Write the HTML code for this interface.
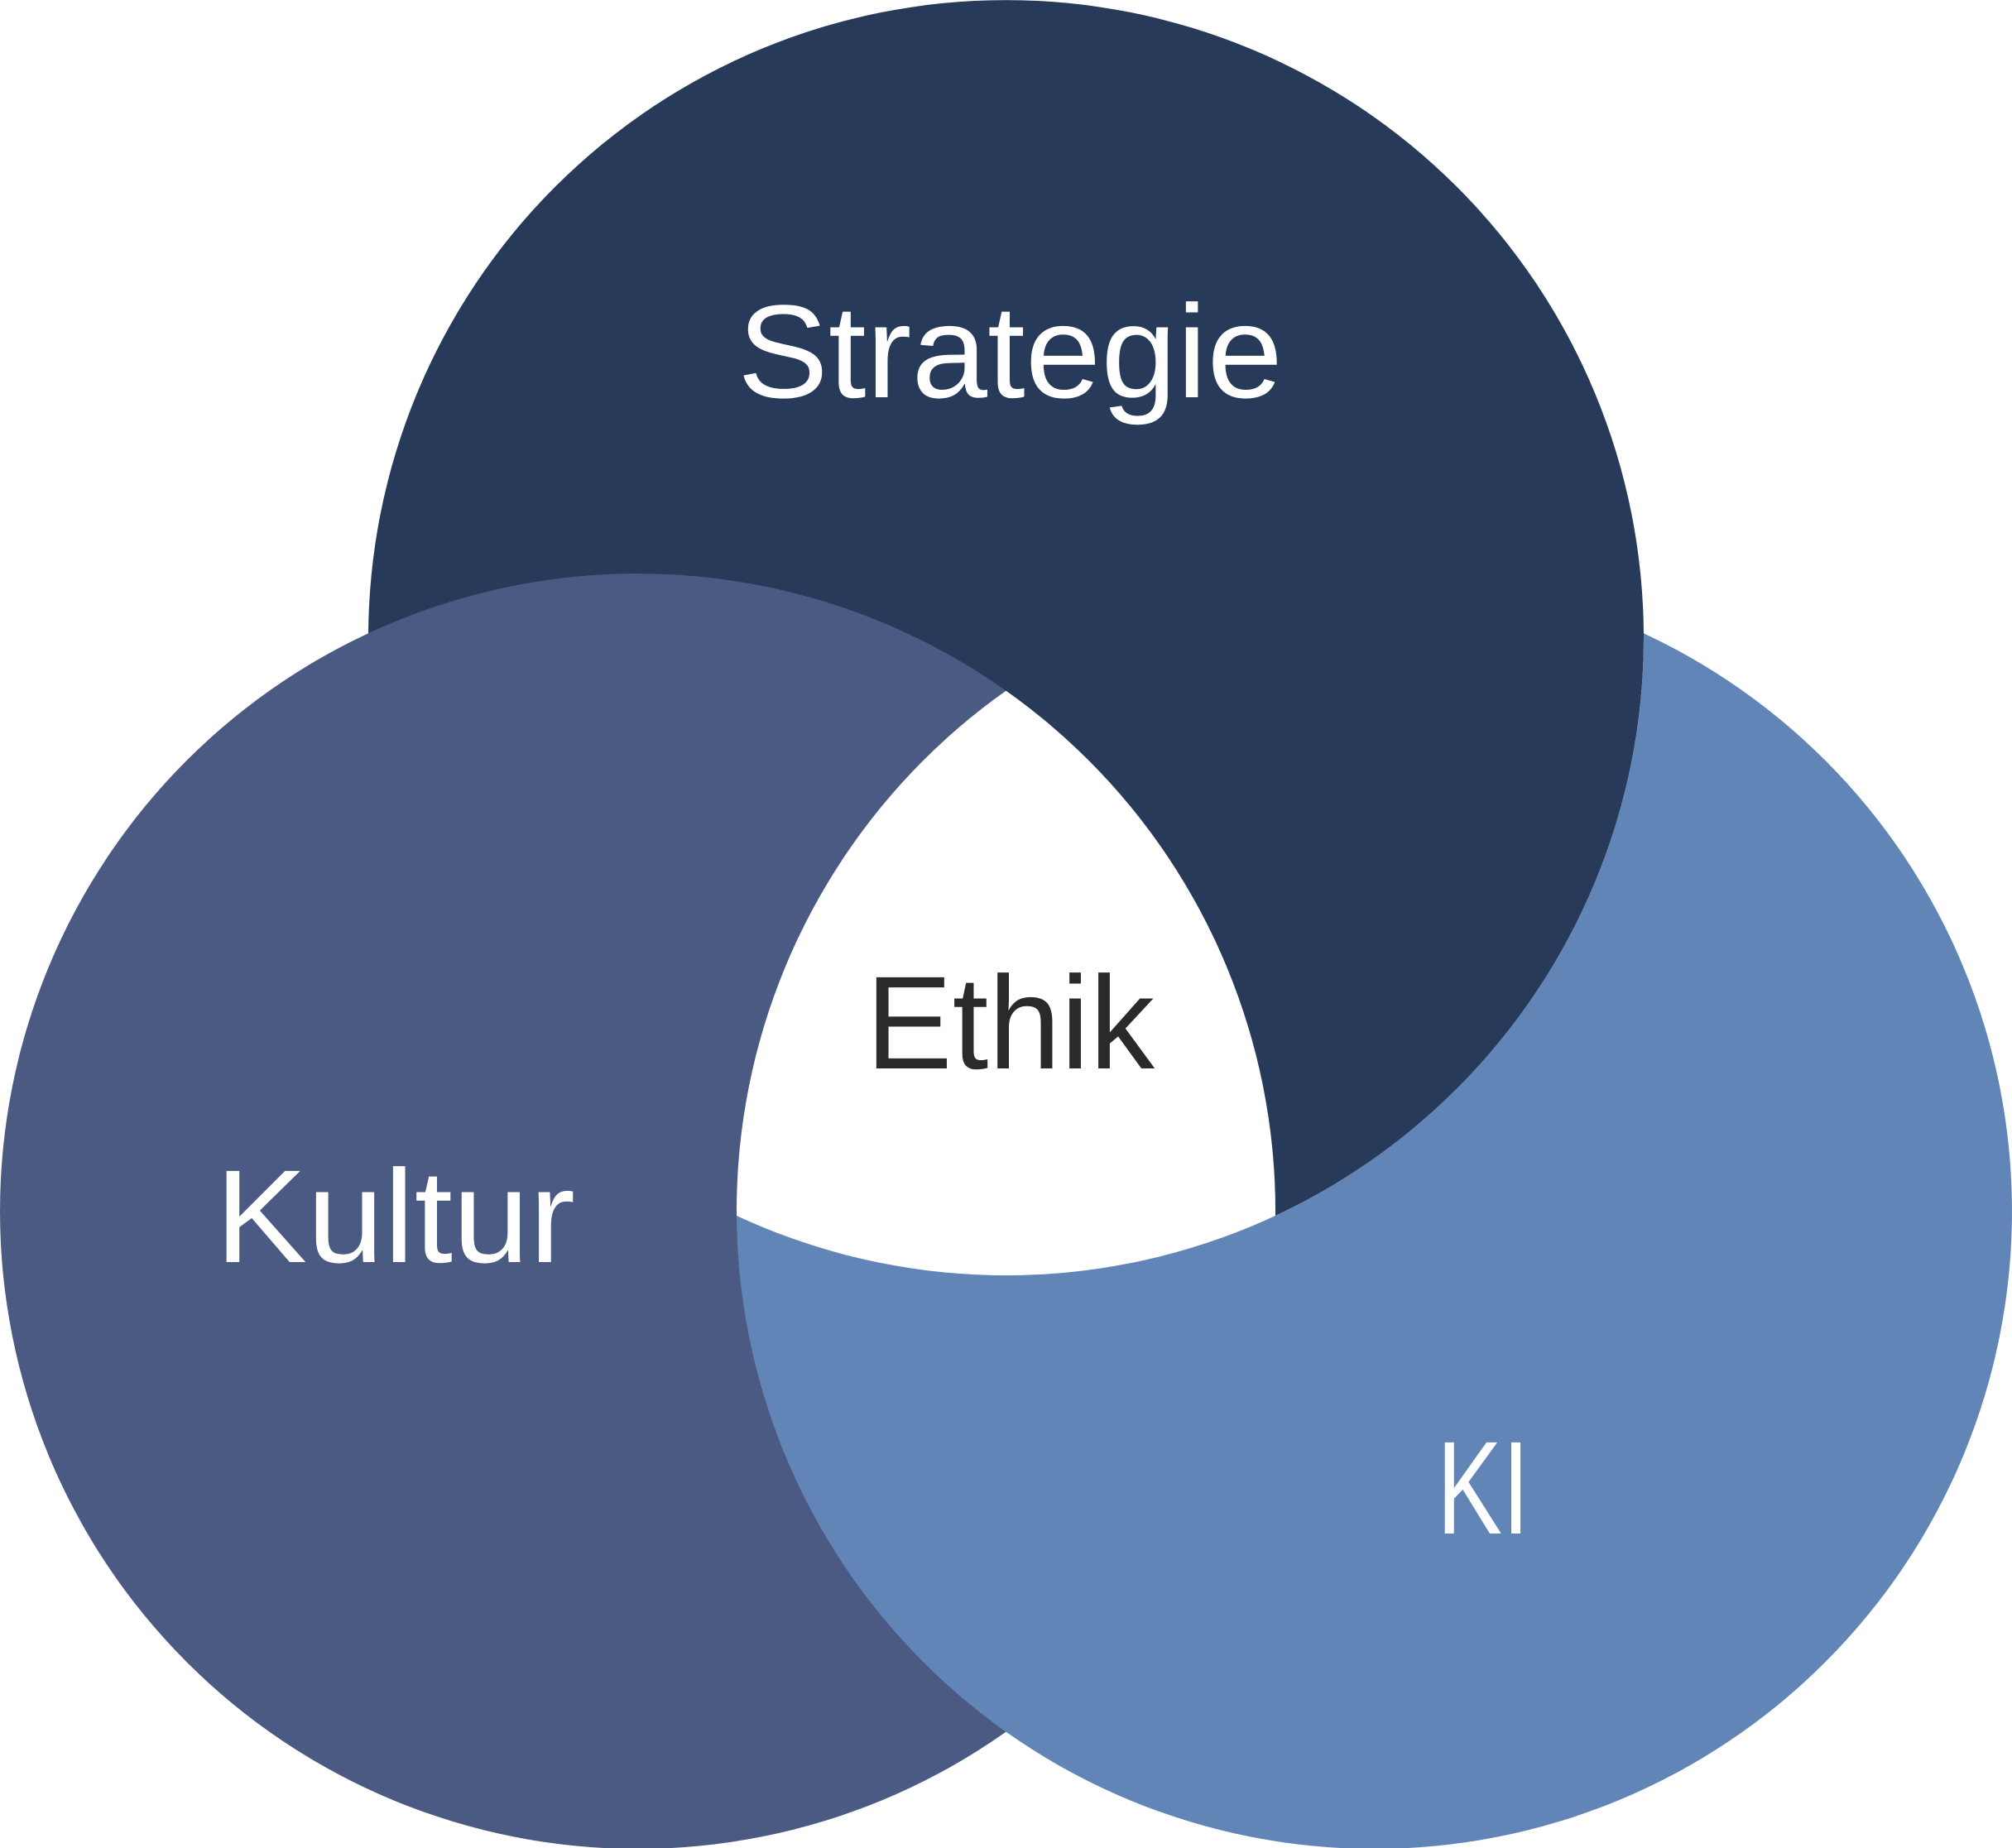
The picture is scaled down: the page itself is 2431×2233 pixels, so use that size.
<!DOCTYPE html>
<html><head><meta charset="utf-8"><style>
html,body{margin:0;padding:0;background:#fff;}
svg{display:block;}
text{font-family:"Liberation Sans",sans-serif;}
</style></head><body>
<svg width="2431" height="2233" viewBox="0 0 2431 2233" xmlns="http://www.w3.org/2000/svg">
<defs>
<clipPath id="cR"><circle cx="1660.5" cy="1463.6" r="770.5"/></clipPath>
<clipPath id="cT"><circle cx="1215.5" cy="770.6" r="770.5"/></clipPath>
<mask id="mNT" maskUnits="userSpaceOnUse" x="0" y="0" width="2431" height="2233">
<rect x="0" y="0" width="2431" height="2233" fill="#fff"/>
<circle cx="1215.5" cy="770.6" r="770.5" fill="#000"/>
</mask>
</defs>
<circle cx="1215.5" cy="770.6" r="770.5" fill="#283a5a"/>
<circle cx="770.5" cy="1463.6" r="770.5" fill="#4a5a82"/>
<circle cx="1660.5" cy="1463.6" r="770.5" fill="#6285b8" mask="url(#mNT)"/>
<g clip-path="url(#cR)"><g clip-path="url(#cT)"><circle cx="770.5" cy="1463.6" r="770.5" fill="#ffffff"/></g></g>
<text x="891" y="480" font-size="160" fill="#fff" textLength="659" lengthAdjust="spacingAndGlyphs">Strategie</text>
<text x="260" y="1525" font-size="160" fill="#fff" textLength="435" lengthAdjust="spacingAndGlyphs">Kultur</text>
<text x="1046" y="1291" font-size="160" fill="#2a2a2a" textLength="349" lengthAdjust="spacingAndGlyphs">Ethik</text>
<text x="1736" y="1853" font-size="160" fill="#fff" textLength="112" lengthAdjust="spacingAndGlyphs">KI</text>
</svg>
</body></html>
